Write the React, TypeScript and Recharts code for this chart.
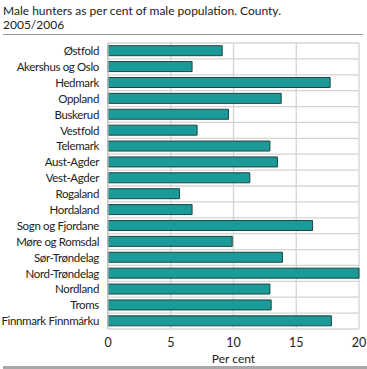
import React from 'react';
import { BarChart, Bar, XAxis, YAxis, CartesianGrid, Label } from 'recharts';

const counties = [
  'Østfold', 'Akershus og Oslo', 'Hedmark', 'Oppland', 'Buskerud', 'Vestfold',
  'Telemark', 'Aust-Agder', 'Vest-Agder', 'Rogaland', 'Hordaland', 'Sogn og Fjordane',
  'Møre og Romsdal', 'Sør-Trøndelag', 'Nord-Trøndelag', 'Nordland', 'Troms', 'Finnmark Finnmárku',
];
const percent = [9.1, 6.7, 17.7, 13.8, 9.6, 7.1, 12.9, 13.5, 11.3, 5.7, 6.7, 16.3, 9.9, 13.9, 20.0, 12.9, 13.0, 17.8];
const xTicks = [0, 5, 10, 15, 20];

const data = counties.map((c, i) => ({ county: c, value: percent[i] }));

const FONT = 'Lato, "Open Sans", sans-serif';

const CountyTick = (props: any) => {
  const { x, y, payload } = props;
  return (
    <text x={x} y={y} dy="0.36em" textAnchor="end" fontSize={11.5} letterSpacing={-0.35} fill="#222" fontFamily={FONT}>
      {payload.value}
    </text>
  );
};

export default function App() {
  const top = 43;
  const bottomMargin = 0;
  const xAxisHeight = 40;
  const chartH = 369;
  const n = counties.length;
  const hGen = () => {
    const plotTop = top;
    const plotBottom = chartH - bottomMargin - xAxisHeight;
    const band = (plotBottom - plotTop) / n;
    const pts: number[] = [];
    for (let i = 0; i <= n; i++) pts.push(plotTop + band * i);
    return pts;
  };
  return (
    <div style={{ position: 'absolute', left: 0, top: 0, width: 367, height: 369, background: '#fff', fontFamily: FONT }}>
      <div style={{ position: 'absolute', left: 3, top: 4, fontSize: 12, lineHeight: '13.5px', color: '#222' }}>
        Male hunters as per cent of male population. County.
        <br />
        2005/2006
      </div>
      <div style={{ position: 'absolute', left: 3, top: 34, width: 360, height: 1, background: '#9a9a9a' }} />
      <BarChart
        width={367}
        height={chartH}
        data={data}
        layout="vertical"
        margin={{ top, right: 8, bottom: bottomMargin, left: 0 }}
        barCategoryGap="17%"
      >
        <CartesianGrid
          stroke="#d4d4d4"
          strokeWidth={1.3}
          horizontalCoordinatesGenerator={hGen}
        />
        <XAxis
          type="number"
          domain={[0, 20]}
          ticks={xTicks}
          axisLine={false}
          tickLine={false}
          height={xAxisHeight}
          tickMargin={3}
          tick={{ fontSize: 12.5, fill: '#222', fontFamily: FONT }}
        >
          <Label value="Per cent" position="insideBottom" offset={6} style={{ fontSize: 12, fill: '#222', fontFamily: FONT }} />
        </XAxis>
        <YAxis
          type="category"
          dataKey="county"
          width={108}
          axisLine={{ stroke: '#c4c4c4', strokeWidth: 1.3 }}
          tickLine={false}
          tickMargin={3}
          interval={0}
          tick={<CountyTick />}
        />
        <Bar dataKey="value" fill="#1a9a98" stroke="#1d4444" strokeWidth={1} isAnimationActive={false} />
      </BarChart>
      <div style={{ position: 'absolute', left: 3, top: 366, width: 364, height: 3, background: '#a8a8a8' }} />
    </div>
  );
}
